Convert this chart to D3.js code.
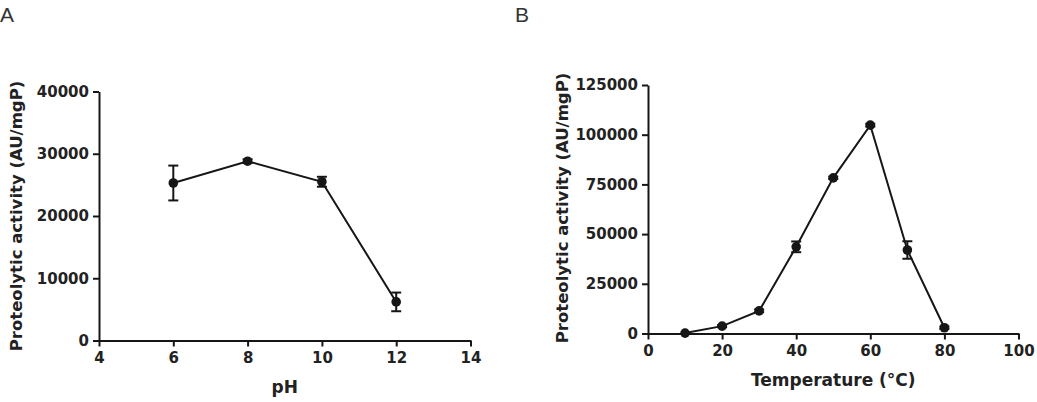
<!DOCTYPE html>
<html>
<head>
<meta charset="utf-8">
<script src="https://cdn.jsdelivr.net/npm/d3@7"></script>
<style>
    body { margin: 0; background: #fff; }
    svg { display: block; }
</style>
</head>
<body>
<div id="chart"></div>
<script>
// Panel A: pH
const phValues = [6, 8, 10, 12];
const phActivity = [25300, 28800, 25500, 6200];
const phError = [2800, 300, 800, 1500];
const phTicksX = [4, 6, 8, 10, 12, 14];
const phTicksY = [0, 10000, 20000, 30000, 40000];

// Panel B: temperature
const tempValues = [10, 20, 30, 40, 50, 60, 70, 80];
const tempActivity = [200, 3700, 11400, 43600, 78300, 104800, 42000, 2900];
const tempError = [0, 500, 700, 2700, 600, 700, 4400, 600];
const tempTicksX = [0, 20, 40, 60, 80, 100];
const tempTicksY = [0, 25000, 50000, 75000, 100000, 125000];

const ink = "#161616";

const svg = d3.select("#chart")
    .append("svg")
    .attr("width", 1037)
    .attr("height", 402);

function drawPanel(opts) {
    const g = svg.append("g");

    const x = d3.scaleLinear().domain(opts.xDomain).range(opts.xRange);
    const y = d3.scaleLinear().domain(opts.yDomain).range(opts.yRange);

    const points = opts.xs.map((v, i) => ({ x: v, y: opts.ys[i], e: opts.es[i] }));

    // Axes
    const xAxis = g.append("g")
        .attr("transform", `translate(0,${opts.yRange[0]})`)
        .call(d3.axisBottom(x).tickValues(opts.ticksX).tickFormat(d3.format("d"))
            .tickSize(6).tickSizeOuter(0).tickPadding(6));

    const yAxis = g.append("g")
        .attr("transform", `translate(${opts.xRange[0]},0)`)
        .call(d3.axisLeft(y).tickValues(opts.ticksY).tickFormat(d3.format("d"))
            .tickSize(6).tickSizeOuter(0).tickPadding(4));

    [xAxis, yAxis].forEach(a => {
        a.select(".domain").attr("stroke", ink).attr("stroke-width", 2);
        a.selectAll(".tick line").attr("stroke", ink).attr("stroke-width", 2);
        a.selectAll("text")
            .style("font-family", "DejaVu Sans")
            .style("font-weight", "bold")
            .style("font-size", "15px")
            .attr("fill", "#222");
    });

    // Line
    const line = d3.line()
        .x(d => x(d.x))
        .y(d => y(d.y));

    g.append("path")
        .datum(points)
        .attr("fill", "none")
        .attr("stroke", ink)
        .attr("stroke-width", 2)
        .attr("d", line);

    // Error bars
    const bars = g.append("g")
        .selectAll("g")
        .data(points.filter(d => d.e > 0))
        .join("g")
        .attr("stroke", ink)
        .attr("stroke-width", 2);

    bars.append("line")
        .attr("x1", d => x(d.x)).attr("x2", d => x(d.x))
        .attr("y1", d => y(d.y + d.e)).attr("y2", d => y(d.y - d.e));

    bars.append("line")
        .attr("x1", d => x(d.x) - 5).attr("x2", d => x(d.x) + 5)
        .attr("y1", d => y(d.y + d.e)).attr("y2", d => y(d.y + d.e));

    bars.append("line")
        .attr("x1", d => x(d.x) - 5).attr("x2", d => x(d.x) + 5)
        .attr("y1", d => y(d.y - d.e)).attr("y2", d => y(d.y - d.e));

    // Markers
    g.append("g")
        .selectAll("circle")
        .data(points)
        .join("circle")
        .attr("cx", d => x(d.x))
        .attr("cy", d => y(d.y))
        .attr("r", 4.8)
        .attr("fill", ink);

    // Axis titles
    g.append("text")
        .attr("x", (opts.xRange[0] + opts.xRange[1]) / 2)
        .attr("y", opts.yRange[0] + 52)
        .attr("text-anchor", "middle")
        .style("font-family", "DejaVu Sans")
        .style("font-weight", "bold")
        .style("font-size", "17px")
        .attr("fill", "#222")
        .text(opts.xLabel);

    g.append("text")
        .attr("transform", `translate(${opts.yLabelX},${opts.yLabelY}) rotate(-90)`)
        .attr("text-anchor", "middle")
        .style("font-family", "DejaVu Sans")
        .style("font-weight", "bold")
        .style("font-size", "16.5px")
        .attr("fill", "#222")
        .text("Proteolytic activity (AU/mgP)");

    // Panel letter
    svg.append("text")
        .attr("x", opts.letterX)
        .attr("y", 22)
        .style("font-family", "Liberation Sans")
        .style("font-size", "21px")
        .attr("fill", "#333")
        .text(opts.letter);
}

drawPanel({
    xs: phValues, ys: phActivity, es: phError,
    xDomain: [4, 14], xRange: [99, 470.5],
    yDomain: [0, 40000], yRange: [340.5, 91.5],
    ticksX: phTicksX, ticksY: phTicksY,
    xLabel: "pH",
    yLabelX: 22, yLabelY: 216,
    letter: "A", letterX: 0
});

drawPanel({
    xs: tempValues, ys: tempActivity, es: tempError,
    xDomain: [0, 100], xRange: [648, 1018.5],
    yDomain: [0, 125000], yRange: [333.5, 85],
    ticksX: tempTicksX, ticksY: tempTicksY,
    xLabel: "Temperature (\u00B0C)",
    yLabelX: 568, yLabelY: 208,
    letter: "B", letterX: 515
});
</script>
</body>
</html>
